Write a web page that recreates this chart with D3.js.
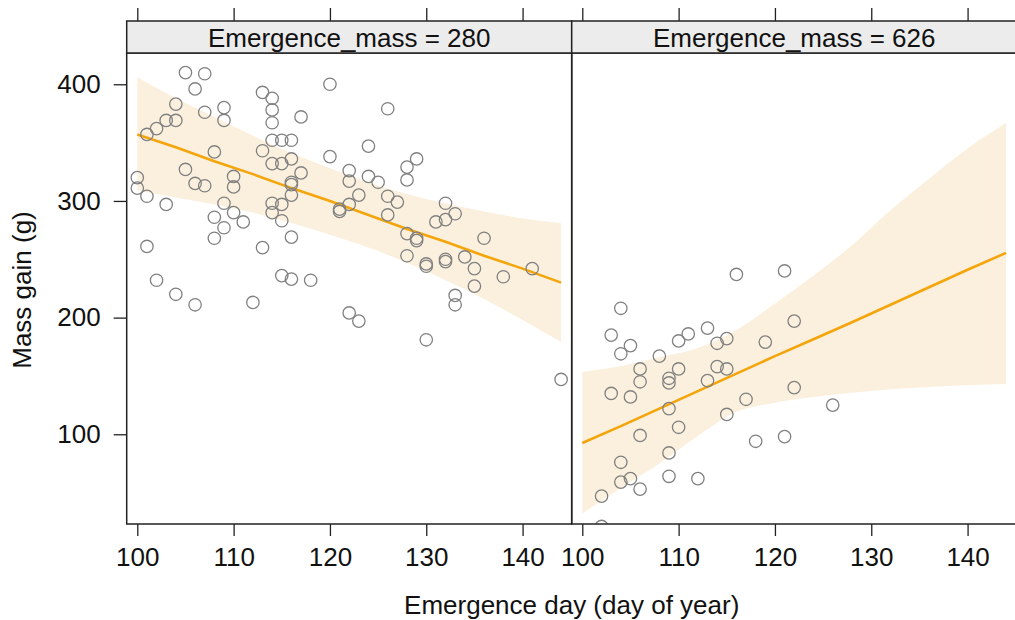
<!DOCTYPE html>
<html>
<head>
<meta charset="utf-8">
<script src="https://cdn.jsdelivr.net/npm/d3@7"></script>
<style>
  body { margin: 0; background: #fff; }
  svg { display: block; }
  text { font-family: "Liberation Sans", Arial, Helvetica, sans-serif; fill: #111; }
</style>
</head>
<body>
<svg id="chart" width="1015" height="620"></svg>
<script>
// Panel labels (conditioning levels of emergence mass)
const panelLabels = ["Emergence_mass = 280", "Emergence_mass = 626"];
const xTicks = [100, 110, 120, 130, 140];
const yTicks = [100, 200, 300, 400];
const xTitle = "Emergence day (day of year)";
const yTitle = "Mass gain (g)";

// Observations, emergence mass 280 g
const day280 = [
  100, 100,
  101, 101, 101,
  102, 102,
  103, 103,
  104, 104, 104,
  105, 105,
  106, 106, 106,
  107, 107, 107,
  108, 108, 108,
  109, 109, 109, 109,
  110, 110, 110,
  111, 112,
  113, 113, 113,
  114, 114, 114, 114, 114, 114, 114,
  115, 115, 115, 115, 115,
  116, 116, 116, 116, 116, 116, 116,
  117, 117,
  118,
  120, 120,
  121, 121,
  122, 122, 122, 122,
  123, 123,
  124, 124,
  125,
  126, 126, 126,
  127,
  128, 128, 128, 128,
  129, 129, 129,
  130, 130, 130,
  131,
  132, 132, 132, 132,
  133, 133, 133,
  134,
  135, 135,
  136, 138, 141, 144
];
const gain280 = [
  320, 311,
  357, 304, 261,
  362, 232,
  369, 297,
  383, 369, 220,
  410, 327,
  396, 315, 211,
  409, 376, 313,
  342, 286, 268,
  380, 369, 298, 277,
  321, 312, 290,
  282, 213,
  393, 343, 260,
  388, 378, 367, 352, 332, 298, 290,
  352, 332, 297, 283, 236,
  352, 336, 316, 314, 305, 269, 233,
  372, 324,
  232,
  400, 338,
  293, 291,
  326, 317, 297, 204,
  305, 197,
  347, 321,
  316,
  379, 304, 288,
  299,
  329, 318, 272, 253,
  336, 268, 266,
  246, 244, 181,
  282,
  298, 284, 250, 248,
  289, 219, 211,
  252,
  242, 227,
  268, 235, 242, 147
];

// Observations, emergence mass 626 g
const day626 = [
  102, 102,
  103, 103,
  104, 104, 104, 104,
  105, 105, 105,
  106, 106, 106, 106,
  108,
  109, 109, 109, 109, 109,
  110, 110, 110,
  111, 112,
  113, 113,
  114, 114,
  115, 115, 115,
  116, 117, 118, 119,
  121, 121,
  122, 122,
  126
];
const gain626 = [
  47, 21,
  185, 135,
  208, 169, 76, 59,
  176, 132, 62,
  156, 145, 99, 53,
  167,
  148, 144, 122, 84, 64,
  180, 156, 106,
  186, 62,
  191, 146,
  178, 158,
  182, 156, 117,
  237, 130, 94, 179,
  240, 98,
  197, 140,
  125
];

// Fitted effect of emergence day with its 95% confidence band
const fitDays = [100, 104, 108, 112, 116, 120, 124, 128, 132, 136, 140, 144];
const fit280   = [357, 346, 334, 323, 311, 300, 288, 276, 265, 253, 242, 230];
const upper280 = [406, 388, 372, 356, 341, 328, 316, 306, 298, 291, 285, 281];
const lower280 = [309, 303, 297, 290, 281, 271, 260, 247, 232, 216, 198, 179];
const fit626   = [92.5, 107, 122, 137, 152, 167, 181.5, 196, 211, 226, 241, 255.5];
const upper626 = [153.6, 158.5, 166, 174, 189.4, 212, 236, 262, 292, 319, 345, 367];
const lower626 = [32, 54, 75, 98.6, 119.3, 127, 132, 135.5, 138.5, 140.5, 142, 143];

const panelData = [
  { label: panelLabels[0], days: day280, gains: gain280, fit: fit280, upper: upper280, lower: lower280 },
  { label: panelLabels[1], days: day626, gains: gain626, fit: fit626, upper: upper626, lower: lower626 }
];

// Layout
const panelLeft = 126.7, panelW = 445;
const plotTop = 53, plotBottom = 524;
const stripTop = 21, stripH = plotTop - stripTop;
const fontSize = 26;
const ink = "#222";

const x = d3.scaleLinear().domain([98.9, 145.1]).range([0, panelW]);
const y = d3.scaleLinear().domain([23.1, 426.8]).range([plotBottom, plotTop]);

const svg = d3.select("#chart");

const bandColor = "#fbf0dd";
const lineColor = "#f4a50c";
const pointColor = "#808080";

panelData.forEach((p, i) => {
  const g = svg.append("g").attr("transform", `translate(${panelLeft + i * panelW},0)`);

  const clipId = "clip" + i;
  g.append("clipPath").attr("id", clipId)
    .append("rect").attr("x", 0).attr("y", plotTop).attr("width", panelW).attr("height", plotBottom - plotTop);

  const body = g.append("g").attr("clip-path", `url(#${clipId})`);

  const area = d3.area()
    .x((d, k) => x(fitDays[k]))
    .y0((d, k) => y(p.lower[k]))
    .y1((d, k) => y(p.upper[k]))
    .curve(d3.curveMonotoneX);
  body.append("path").attr("d", area(fitDays)).attr("fill", bandColor);

  const line = d3.line()
    .x((d, k) => x(fitDays[k]))
    .y((d, k) => y(p.fit[k]));
  body.append("path").attr("d", line(fitDays))
    .attr("fill", "none").attr("stroke", lineColor).attr("stroke-width", 2.6);

  body.selectAll("circle").data(p.days).join("circle")
    .attr("cx", (d) => x(d))
    .attr("cy", (d, k) => y(p.gains[k]))
    .attr("r", 6.2)
    .attr("fill", "none")
    .attr("stroke", pointColor)
    .attr("stroke-width", 1.3);

  // panel border
  g.append("rect").attr("x", 0).attr("y", plotTop).attr("width", panelW).attr("height", plotBottom - plotTop)
    .attr("fill", "none").attr("stroke", ink).attr("stroke-width", 1.5);

  // strip
  g.append("rect").attr("x", 0).attr("y", stripTop).attr("width", panelW).attr("height", stripH)
    .attr("fill", "#ececec").attr("stroke", ink).attr("stroke-width", 1.5);
  g.append("text").attr("x", panelW / 2).attr("y", stripTop + 25.7)
    .attr("text-anchor", "middle").attr("font-size", fontSize).text(p.label);

  // bottom axis with labels
  const bottom = g.append("g").attr("transform", `translate(0,${plotBottom})`)
    .call(d3.axisBottom(x).tickValues(xTicks).tickSize(12).tickPadding(11.5).tickSizeOuter(0));
  // top axis, ticks only
  const top = g.append("g").attr("transform", `translate(0,${stripTop})`)
    .call(d3.axisTop(x).tickValues(xTicks).tickSize(13).tickFormat("").tickSizeOuter(0));
  [bottom, top].forEach((a) => {
    a.select(".domain").remove();
    a.selectAll("line").attr("stroke", ink).attr("stroke-width", 1.3);
    a.selectAll("text").attr("font-size", fontSize).attr("fill", "#111")
      .style("font-family", '"Liberation Sans", Arial, sans-serif');
  });

  if (i === 0) {
    const left = g.append("g")
      .call(d3.axisLeft(y).tickValues(yTicks).tickSize(13).tickPadding(13).tickSizeOuter(0));
    left.select(".domain").remove();
    left.selectAll("line").attr("stroke", ink).attr("stroke-width", 1.3);
    left.selectAll("text").attr("font-size", fontSize).attr("fill", "#111")
      .style("font-family", '"Liberation Sans", Arial, sans-serif');
  }
});

// axis titles
svg.append("text").attr("x", panelLeft + panelW).attr("y", 614)
  .attr("text-anchor", "middle").attr("font-size", fontSize).text(xTitle);
svg.append("text").attr("transform", "translate(31,290) rotate(-90)")
  .attr("text-anchor", "middle").attr("font-size", fontSize).text(yTitle);
</script>
</body>
</html>
